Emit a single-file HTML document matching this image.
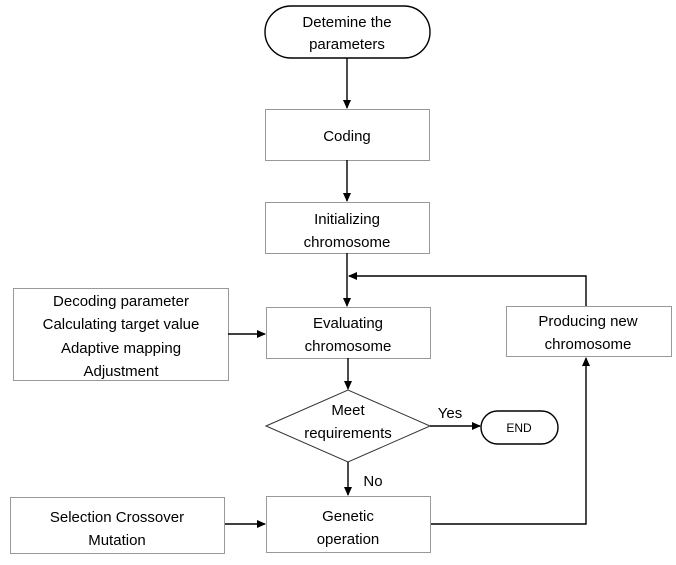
<!DOCTYPE html>
<html><head><style>
body{margin:0;background:#fff}
svg text{font-family:"Liberation Sans",sans-serif;font-size:15px;fill:#000;text-anchor:middle}
</style></head><body>
<svg width="676" height="560" viewBox="0 0 676 560" xmlns="http://www.w3.org/2000/svg">
<defs><marker id="a" markerWidth="10" markerHeight="10" refX="8" refY="5" orient="auto" markerUnits="userSpaceOnUse"><path d="M0,1 L9,5 L0,9 Z" fill="#000"/></marker></defs>
<g fill="none" stroke="#000" stroke-width="1.4">
<rect x="265" y="6" width="165" height="52" rx="26"/>
<rect x="481" y="411" width="77" height="33" rx="16.5"/>
</g>
<g fill="none" stroke="#999" stroke-width="1">
<rect x="265.5" y="109.5" width="164" height="51"/>
<rect x="265.5" y="202.5" width="164" height="51"/>
<rect x="266.5" y="307.5" width="164" height="51"/>
<rect x="13.5" y="288.5" width="215" height="92"/>
<rect x="506.5" y="306.5" width="165" height="50"/>
<rect x="266.5" y="496.5" width="164" height="56"/>
<rect x="10.5" y="497.5" width="214" height="56"/>
</g>
<path d="M266,426 L348,390 L430,426 L348,462 Z" fill="none" stroke="#333" stroke-width="1"/>
<g stroke="#000" stroke-width="1.4" fill="none" marker-end="url(#a)">
<line x1="347" y1="58" x2="347" y2="108"/>
<line x1="347" y1="160" x2="347" y2="201"/>
<line x1="347" y1="253" x2="347" y2="306"/>
<polyline points="586,306 586,276 349,276"/>
<line x1="228" y1="334" x2="265" y2="334"/>
<line x1="348" y1="358" x2="348" y2="389"/>
<line x1="430" y1="426" x2="480" y2="426"/>
<line x1="348" y1="462" x2="348" y2="495"/>
<line x1="225" y1="524" x2="265" y2="524"/>
<polyline points="431,524 586,524 586,358"/>
</g>
<text x="347" y="27">Detemine the</text><text x="347" y="49">parameters</text>
<text x="347" y="141">Coding</text>
<text x="347" y="224">Initializing</text><text x="347" y="247">chromosome</text>
<text x="348" y="328">Evaluating</text><text x="348" y="351">chromosome</text>
<text x="121" y="306">Decoding parameter</text>
<text x="121" y="329">Calculating target value</text>
<text x="121" y="353">Adaptive mapping</text>
<text x="121" y="376">Adjustment</text>
<text x="588" y="326">Producing new</text><text x="588" y="349">chromosome</text>
<text x="348" y="415">Meet</text><text x="348" y="438">requirements</text>
<text x="450" y="418">Yes</text>
<text x="519" y="432" style="font-size:12px">END</text>
<text x="373" y="486">No</text>
<text x="348" y="521">Genetic</text><text x="348" y="544">operation</text>
<text x="117" y="522">Selection Crossover</text><text x="117" y="545">Mutation</text>
</svg>
</body></html>
